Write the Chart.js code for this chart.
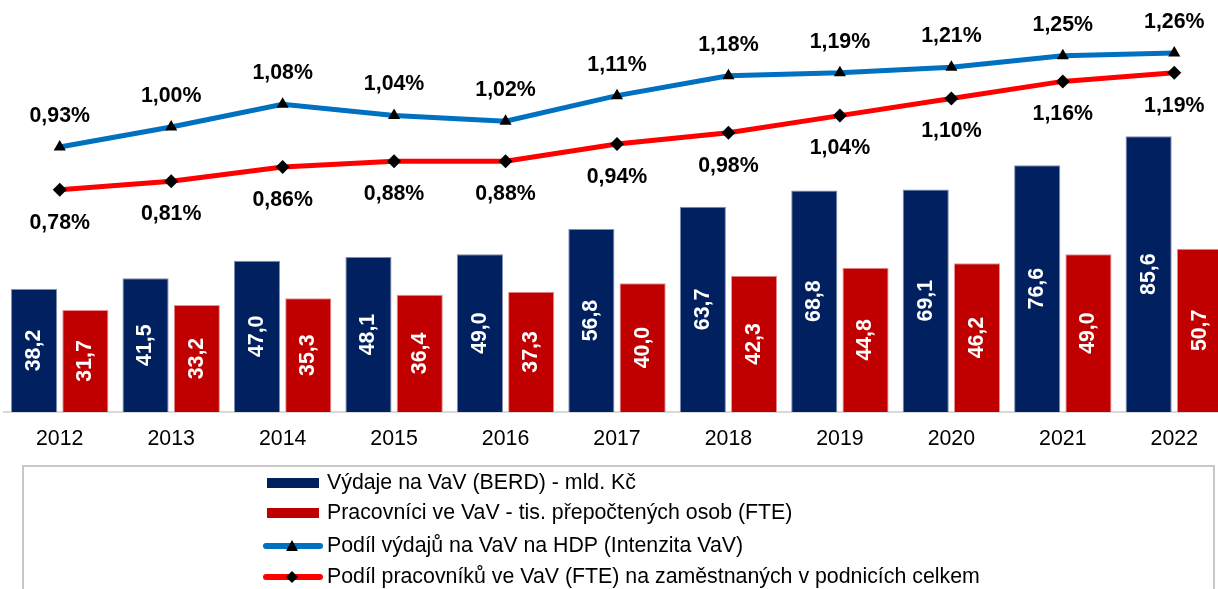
<!DOCTYPE html>
<html>
<head>
<meta charset="utf-8">
<script src="https://cdn.jsdelivr.net/npm/chart.js@4.4.1/dist/chart.umd.min.js"></script>
<style>
  html, body { margin: 0; padding: 0; background: #fff; overflow: hidden; }
  #wrap { position: relative; width: 1231px; height: 589px; overflow: hidden; }
  #c { position: absolute; left: 0; top: 0; width: 1231px; height: 589px; }
  #legend { position: absolute; left: 22px; top: 465px; width: 1193px; height: 200px;
            border: 2px solid #c8c8c8; box-sizing: border-box; background: transparent; }
  .item { position: absolute; left: 0; height: 30px; font-family: Arial, 'Liberation Sans', sans-serif;
          font-size: 21.33px; color: #000; white-space: nowrap; }
  .item .txt { position: absolute; left: 303px; top: 50%; transform: translateY(-50%); line-height: 1; }
  .item svg { position: absolute; left: 238px; top: 0; }
</style>
</head>
<body>
<div id="wrap">
  <canvas id="c" width="1231" height="589"></canvas>
  <div id="legend"></div>
</div>
<script>
// ---- data ----
const years = ['2012','2013','2014','2015','2016','2017','2018','2019','2020','2021','2022'];
const berd = [38.2, 41.5, 47.0, 48.1, 49.0, 56.8, 63.7, 68.8, 69.1, 76.6, 85.6];
const fte  = [31.7, 33.2, 35.3, 36.4, 37.3, 40.0, 42.3, 44.8, 46.2, 49.0, 50.7];
const intensity = [0.93, 1.00, 1.08, 1.04, 1.02, 1.11, 1.18, 1.19, 1.21, 1.25, 1.26];
const fteShare  = [0.78, 0.81, 0.86, 0.88, 0.88, 0.94, 0.98, 1.04, 1.10, 1.16, 1.19];
const seriesLabels = [
  'Výdaje na VaV (BERD) - mld. Kč',
  'Pracovníci ve VaV - tis. přepočtených osob (FTE)',
  'Podíl výdajů na VaV na HDP (Intenzita VaV)',
  'Podíl pracovníků ve VaV (FTE) na zaměstnaných v podnicích celkem'
];

Chart.defaults.font.family = "Arial, 'Liberation Sans', sans-serif";

const labelPlugin = {
  id: 'valueLabels',
  afterDatasetsDraw(chart) {
    const ctx = chart.ctx;
    chart.data.datasets.forEach((ds, di) => {
      const meta = chart.getDatasetMeta(di);
      if (meta.hidden) return;
      meta.data.forEach((el, i) => {
        const v = ds.data[i];
        ctx.save();
        ctx.font = "bold 21.33px Arial, 'Liberation Sans', sans-serif";
        ctx.textAlign = 'center';
        ctx.textBaseline = 'middle';
        if (ds.type === 'bar') {
          ctx.fillStyle = '#ffffff';
          ctx.translate(el.x, (el.y + el.base) / 2);
          ctx.rotate(-Math.PI / 2);
          ctx.fillText(v.toFixed(1).replace('.', ','), 0, 0);
        } else {
          ctx.fillStyle = '#000000';
          const off = ds.labelPos === 'above' ? -31 : 33;
          ctx.fillText(v.toFixed(2).replace('.', ',') + '%', el.x, el.y + off);
        }
        ctx.restore();
      });
    });
  }
};

const chart = new Chart(document.getElementById('c'), {
  data: {
    labels: years,
    datasets: [
      { type: 'line', label: seriesLabels[2], data: intensity, yAxisID: 'y1', order: 0,
        borderColor: '#0070c0', borderWidth: 5, pointStyle: 'triangle', pointRadius: 7,
        pointBackgroundColor: '#000', pointBorderColor: '#000', pointBorderWidth: 0,
        tension: 0, labelPos: 'above', swatch: 'line', marker: 'triangle' },
      { type: 'line', label: seriesLabels[3], data: fteShare, yAxisID: 'y1', order: 0,
        borderColor: '#ff0000', borderWidth: 5, pointStyle: 'rectRot', pointRadius: 7,
        pointBackgroundColor: '#000', pointBorderColor: '#000', pointBorderWidth: 0,
        tension: 0, labelPos: 'below', swatch: 'line', marker: 'diamond' },
      { type: 'bar', label: seriesLabels[0], data: berd, yAxisID: 'y', order: 1,
        backgroundColor: '#002060', borderColor: '#7f8fb0', borderWidth: 1,
        categoryPercentage: 0.92, barPercentage: 0.9, swatch: 'bar' },
      { type: 'bar', label: seriesLabels[1], data: fte, yAxisID: 'y', order: 1,
        backgroundColor: '#c00000', borderColor: '#e89090', borderWidth: 1,
        categoryPercentage: 0.92, barPercentage: 0.9, swatch: 'bar' }
    ]
  },
  options: {
    responsive: false,
    maintainAspectRatio: false,
    animation: false,
    devicePixelRatio: 1,
    layout: { autoPadding: false, padding: { left: 4, right: 1, top: 12, bottom: 137 } },
    plugins: { legend: { display: false }, tooltip: { enabled: false } },
    scales: {
      x: {
        type: 'category',
        offset: true,
        grid: { display: false, drawTicks: false },
        border: { display: true, color: '#d9d9d9', width: 2 },
        ticks: { color: '#000', font: { size: 21.33 }, padding: 14, maxRotation: 0, autoSkip: false },
        afterFit(scale) { scale.height = 40; }
      },
      y: { display: false, min: 0, max: 124.2 },
      y1: { display: false, min: 0, max: 1.4035, position: 'right' }
    }
  },
  plugins: [labelPlugin]
});

// HTML legend built from the chart's datasets (bars first, then lines)
const legend = document.getElementById('legend');
const order = [2, 3, 0, 1];
const rowCenters = [482.5, 513.3, 545.7, 577.3];
order.forEach((di, k) => {
  const ds = chart.data.datasets[di];
  const item = document.createElement('div');
  item.className = 'item';
  item.style.top = (rowCenters[k] - 465 - 2 - 15) + 'px';
  let svg;
  if (ds.swatch === 'bar') {
    svg = `<svg width="60" height="30"><rect x="5" y="10" width="52" height="10" fill="${ds.backgroundColor}"/></svg>`;
  } else {
    const mk = ds.marker === 'triangle'
      ? `<polygon points="30,9 36,20 24,20" fill="#000"/>`
      : `<polygon points="30,9 36,15 30,21 24,15" fill="#000"/>`;
    svg = `<svg width="62" height="30"><line x1="4" y1="15" x2="58" y2="15" stroke="${ds.borderColor}" stroke-width="6" stroke-linecap="round"/>${mk}</svg>`;
  }
  item.innerHTML = svg + `<span class="txt">${ds.label}</span>`;
  legend.appendChild(item);
});
</script>
</body>
</html>
